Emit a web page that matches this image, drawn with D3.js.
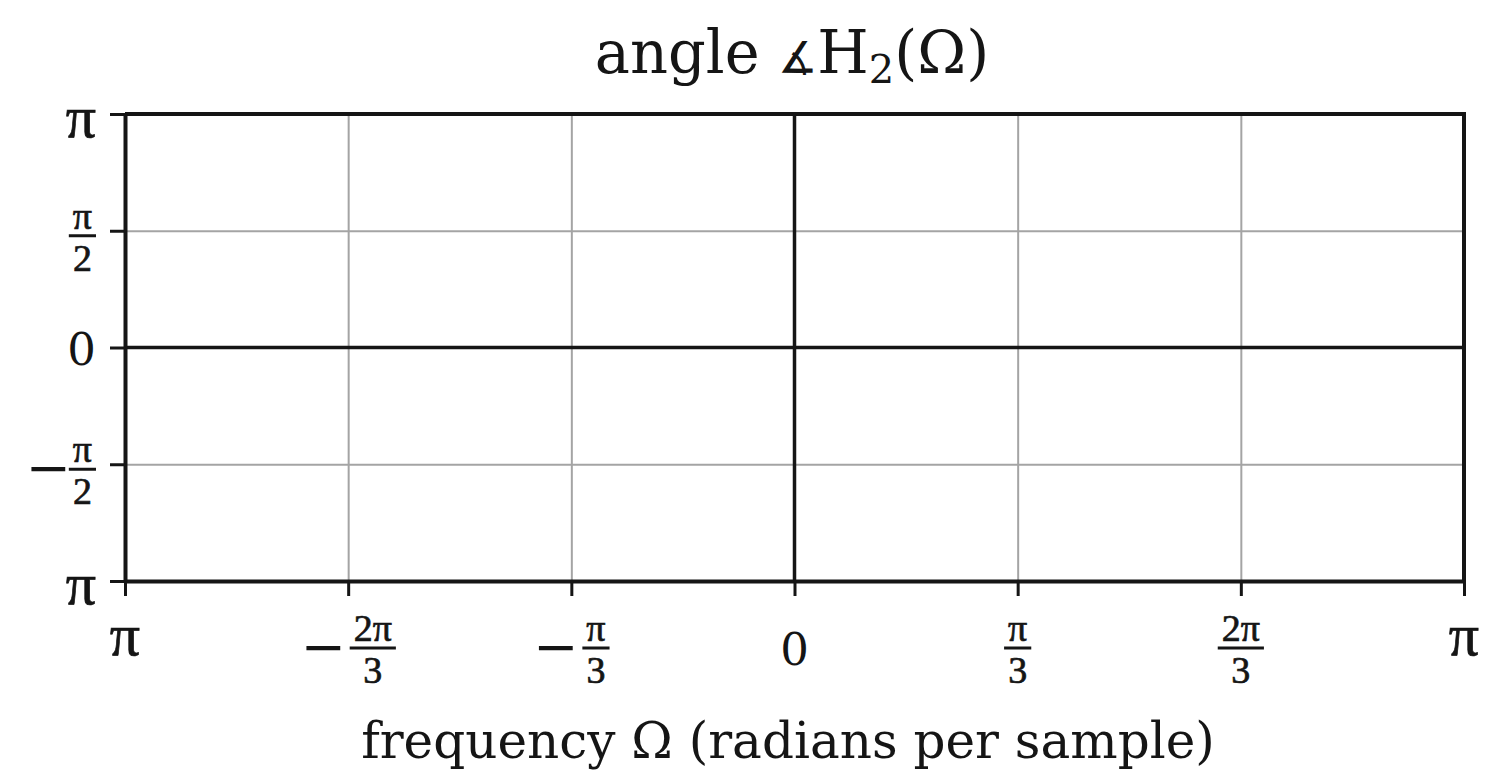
<!DOCTYPE html>
<html><head><meta charset="utf-8">
<script src="https://cdn.jsdelivr.net/npm/d3@7"></script>
<style>
body{margin:0;background:#fff;}
svg{display:block;}
text{font-family:"DejaVu Serif","Liberation Serif",serif;fill:#151515;}
.m{font-family:"Liberation Serif","DejaVu Serif",serif;stroke:#151515;stroke-width:0.7px;}
.sg{font-family:"DejaVu Serif",serif;stroke:none;}
</style>
</head><body>
<svg id="c" width="1490" height="781"></svg>
<script>
// ---- data (tick values in multiples of π) ----
const titleMain = "angle ";
const titleAngle = "∡";
const titleH = "H";
const titleSub = "2";
const titleEnd = "(Ω)";
const xAxisTitle = "frequency Ω (radians per sample)";
const xDomain = [-1, 1];
const yDomain = [-1, 1];
const xTickValues = [-1, -2/3, -1/3, 0, 1/3, 2/3, 1];
const xTickSign = ["", "−", "−", "", "", "", ""];
const xTickNum  = ["π", "2π", "π", "0", "π", "2π", "π"];
const xTickDen  = ["", "3", "3", "", "3", "3", ""];
const yTickValues = [1, 0.5, 0, -0.5, -1];
const yTickSign = ["", "", "", "−", ""];
const yTickNum  = ["π", "π", "0", "π", "π"];
const yTickDen  = ["", "2", "", "2", ""];

// ---- layout ----
const m = {left:125, right:1464, top:114, bottom:581};
const svg = d3.select("#c");
const x = d3.scaleLinear().domain(xDomain).range([m.left, m.right]);
const y = d3.scaleLinear().domain(yDomain).range([m.bottom, m.top]);
const plotW = m.right - m.left, plotH = m.bottom - m.top;
const ink = "#151515";

// grid
svg.append("g").attr("transform", `translate(0,${m.bottom})`)
  .call(d3.axisBottom(x).tickValues(xTickValues).tickSize(-plotH).tickFormat(""))
  .call(g => g.select(".domain").remove())
  .call(g => g.selectAll("line").attr("stroke", "#a4a4a4").attr("stroke-width", 2));
svg.append("g").attr("transform", `translate(${m.left},0)`)
  .call(d3.axisLeft(y).tickValues(yTickValues).tickSize(-plotW).tickFormat(""))
  .call(g => g.select(".domain").remove())
  .call(g => g.selectAll("line").attr("stroke", "#a4a4a4").attr("stroke-width", 2));

// zero lines
svg.append("line").attr("x1", x(xDomain[0])).attr("x2", x(xDomain[1]))
  .attr("y1", y(0)).attr("y2", y(0)).attr("stroke", ink).attr("stroke-width", 3.5);
svg.append("line").attr("x1", x(0)).attr("x2", x(0))
  .attr("y1", y(yDomain[0])).attr("y2", y(yDomain[1])).attr("stroke", ink).attr("stroke-width", 3.5);

// frame top/right
svg.append("line").attr("x1", x(xDomain[0])).attr("x2", x(xDomain[1]) + 2)
  .attr("y1", y(yDomain[1])).attr("y2", y(yDomain[1])).attr("stroke", ink).attr("stroke-width", 4);
svg.append("line").attr("x1", x(xDomain[1])).attr("x2", x(xDomain[1]))
  .attr("y1", y(yDomain[1]) - 2).attr("y2", y(yDomain[0])).attr("stroke", ink).attr("stroke-width", 4);

// axes
const xAxisG = svg.append("g").attr("transform", `translate(0,${m.bottom})`)
  .call(d3.axisBottom(x).tickValues(xTickValues).tickSizeInner(15).tickSizeOuter(0).tickFormat(""));
const yAxisG = svg.append("g").attr("transform", `translate(${m.left},0)`)
  .call(d3.axisLeft(y).tickValues(yTickValues).tickSizeInner(15).tickSizeOuter(0).tickFormat(""));
[xAxisG, yAxisG].forEach(g => {
  g.select(".domain").attr("stroke", ink).attr("stroke-width", 4);
  g.selectAll(".tick line").attr("stroke", ink).attr("stroke-width", 3);
});

// label builder: one <text> per label, fraction bar as a line
const FR = 38;
function buildLabel(parent, sign, num, den, signGap) {
  const g = parent.append("g");
  const t = g.append("text").attr("class", num === "0" ? null : "m");
  let cx = 0;
  if (sign) {
    const s = t.append("tspan").attr("class", "sg").attr("x", 0).attr("y", 17).attr("font-size", 54).text(sign);
    cx = s.node().getComputedTextLength() + signGap;
  }
  if (den) {
    const nt = t.append("tspan").attr("y", -7).attr("font-size", FR).text(num);
    const dt = t.append("tspan").attr("y", 35).attr("font-size", FR).text(den);
    const nl = nt.node().getComputedTextLength(), dl = dt.node().getComputedTextLength();
    const w = Math.max(nl, dl) + 8;
    nt.attr("x", cx + (w - nl) / 2);
    dt.attr("x", cx + (w - dl) / 2);
    g.append("line").attr("x1", cx).attr("x2", cx + w).attr("y1", 0).attr("y2", 0)
      .attr("stroke", ink).attr("stroke-width", 3);
  } else if (num === "π") {
    t.attr("font-size", 60).attr("y", 7).text(num);
  } else {
    t.attr("font-size", 45).attr("y", 17).text(num);
  }
  return g;
}

// x tick labels
const xl = svg.append("g");
xTickValues.forEach((v, i) => {
  const g = buildLabel(xl, xTickSign[i], xTickNum[i], xTickDen[i], 4);
  const bb = g.node().getBBox();
  g.attr("transform", `translate(${x(v) - (bb.x + bb.width / 2)},${648})`);
});

// y tick labels
const yl = svg.append("g");
yTickValues.forEach((v, i) => {
  const g = buildLabel(yl, yTickSign[i], yTickNum[i], yTickDen[i], -2);
  const bb = g.node().getBBox();
  const dy = yTickDen[i] ? 5 : (yTickNum[i] === "π" ? 16 : 0);
  g.attr("transform", `translate(${96 - (bb.x + bb.width)},${y(v) + dy})`);
});

// title
const t = svg.append("text").attr("x", 792).attr("y", 73).attr("text-anchor", "middle").attr("font-size", 59);
t.append("tspan").text(titleMain);
t.append("tspan").attr("font-size", 44).text(titleAngle);
t.append("tspan").text(titleH);
t.append("tspan").attr("font-size", 40).attr("dy", 10).text(titleSub);
t.append("tspan").attr("dy", -10).text(titleEnd);

// x axis title
svg.append("text").attr("x", 788).attr("y", 758).attr("text-anchor", "middle")
  .attr("font-size", 50).text(xAxisTitle);
</script>
</body></html>
